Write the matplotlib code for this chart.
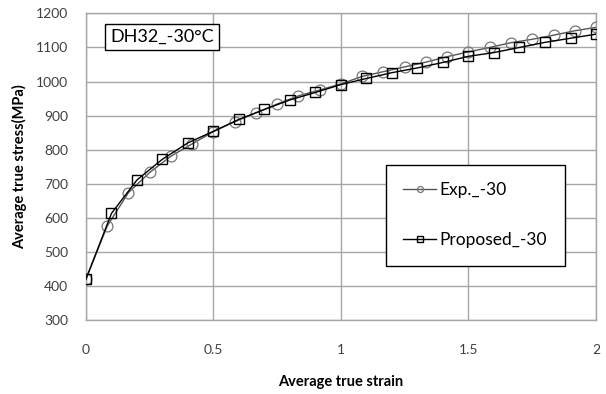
import numpy as np
import matplotlib
matplotlib.use("Agg")
import matplotlib.pyplot as plt

plt.rcParams['font.family'] = ['Lato', 'DejaVu Sans']

# Experimental curve (strain sampled every 1/12)
exp_strain = [0, 1/12, 2/12, 3/12, 4/12, 5/12, 6/12, 7/12, 8/12, 9/12, 10/12, 11/12,
              1.0, 13/12, 14/12, 15/12, 16/12, 17/12, 18/12, 19/12, 20/12, 21/12,
              22/12, 23/12, 2.0]
exp_stress = [420, 576, 674, 733, 781, 817, 853, 882, 908, 934, 958, 975,
              993, 1015, 1029, 1043, 1057, 1073, 1087, 1100, 1114, 1124,
              1136, 1149, 1159]

# Proposed model (strain sampled every 0.1)
prop_strain = [0.0, 0.1, 0.2, 0.3, 0.4, 0.5, 0.6, 0.7, 0.8, 0.9, 1.0,
               1.1, 1.2, 1.3, 1.4, 1.5, 1.6, 1.7, 1.8, 1.9, 2.0]
prop_stress = [420, 613, 711, 772, 820, 854, 889, 918, 946, 968, 991,
               1009, 1026, 1040, 1056, 1074, 1085, 1100, 1115, 1127, 1139]

x_ticks = [0, 0.5, 1, 1.5, 2]
x_tick_labels = ['0', '0.5', '1', '1.5', '2']
y_ticks = list(range(300, 1201, 100))

fig = plt.figure(figsize=(6.06, 3.94), dpi=100)
ax = fig.add_axes([0.1419, 0.188, 0.8416, 0.778])

grid_c = '#a6a6a6'
ax.plot(exp_strain, exp_stress, '-', color='#555555', lw=1.0,
        marker='o', ms=7.8, mfc='none', mec='#767676', mew=0.9,
        label='Exp._-30', zorder=3)
ax.plot(prop_strain, prop_stress, '-', color='black', lw=1.0,
        marker='s', ms=7.8, mfc='none', mec='black', mew=1.0,
        label='Proposed_-30', zorder=4)

ax.set_xlim(0, 2)
ax.set_ylim(300, 1200)
ax.set_xticks(x_ticks)
ax.set_xticklabels(x_tick_labels)
ax.set_yticks(y_ticks)
ax.grid(True, color=grid_c, lw=1.0)
ax.set_axisbelow(True)
for s in ax.spines.values():
    s.set_color(grid_c)
    s.set_linewidth(1.0)
ax.tick_params(length=0, labelsize=10, colors='#404040')
ax.tick_params(axis='x', pad=17)
ax.tick_params(axis='y', pad=13)

ax.set_xlabel('Average true strain', fontsize=10.5, fontweight='bold', labelpad=14)
ax.set_ylabel('Average true stress(MPa)', fontsize=10.5, fontweight='bold', labelpad=6)

ax.text(0.047, 0.923, 'DH32_-30\u00b0C', transform=ax.transAxes, fontsize=13,
        va='center', ha='left',
        bbox=dict(boxstyle='square,pad=0.28', fc='white', ec='black', lw=1.0))

leg = ax.legend(loc='upper left', bbox_to_anchor=(0.588, 0.505), fontsize=12.5,
                frameon=True, fancybox=False, edgecolor='black', framealpha=1,
                handlelength=1.9, handletextpad=0.2, labelspacing=1.95,
                borderpad=1.0, borderaxespad=0, markerscale=0.55)
leg.get_frame().set_linewidth(1.0)

fig.savefig('out.png', dpi=100)
